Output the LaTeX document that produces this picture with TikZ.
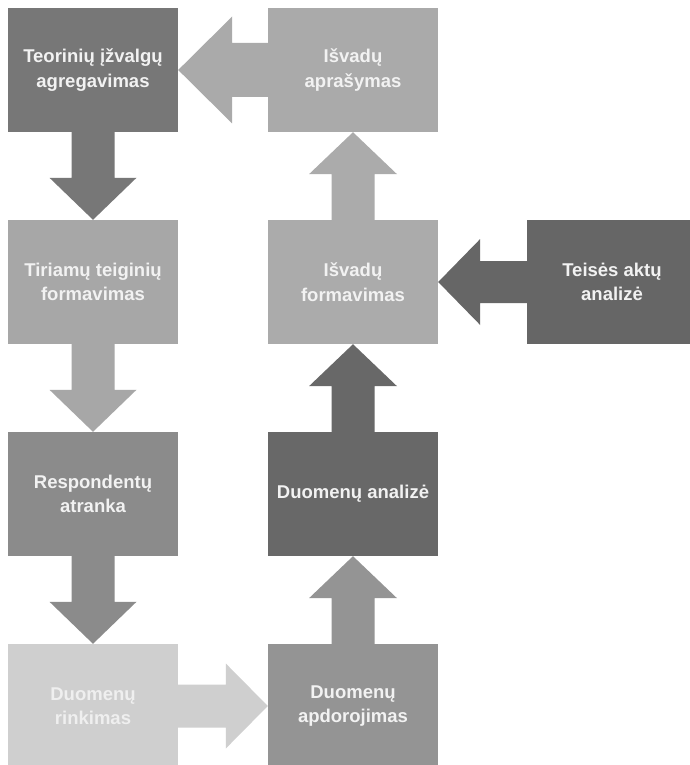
\documentclass[tikz,border=0pt]{standalone}
\usepackage{fontspec}
\setmainfont{Liberation Sans}
\usetikzlibrary{calc}

% box fills
\definecolor{cTeor}{HTML}{777777}
\definecolor{cApr}{HTML}{AAAAAA}
\definecolor{cTir}{HTML}{A7A7A7}
\definecolor{cForm}{HTML}{ABABAB}
\definecolor{cTeis}{HTML}{666666}
\definecolor{cResp}{HTML}{8B8B8B}
\definecolor{cAnal}{HTML}{686868}
\definecolor{cRink}{HTML}{CFCFCF}
\definecolor{cApd}{HTML}{949494}
\definecolor{cText}{HTML}{F2F2F2}
\definecolor{cTextLight}{HTML}{EFEFEF}

% block arrows: #1 source, #2 target, #3 colour, #4 half shaft, #5 half head, #6 head length
\newcommand\blockdown[6]{%
  \fill[#3] ($(#1.south)+(-#4,0)$) -- ($(#2.north)+(-#4,-#6)$) -- ($(#2.north)+(-#5,-#6)$)
    -- (#2.north) -- ($(#2.north)+(#5,-#6)$) -- ($(#2.north)+(#4,-#6)$)
    -- ($(#1.south)+(#4,0)$) -- cycle;}
\newcommand\blockup[6]{%
  \fill[#3] ($(#1.north)+(-#4,0)$) -- ($(#2.south)+(-#4,#6)$) -- ($(#2.south)+(-#5,#6)$)
    -- (#2.south) -- ($(#2.south)+(#5,#6)$) -- ($(#2.south)+(#4,#6)$)
    -- ($(#1.north)+(#4,0)$) -- cycle;}
\newcommand\blockleft[6]{%
  \fill[#3] ($(#1.west)+(0,-#4)$) -- ($(#2.east)+(#6,-#4)$) -- ($(#2.east)+(#6,-#5)$)
    -- (#2.east) -- ($(#2.east)+(#6,#5)$) -- ($(#2.east)+(#6,#4)$)
    -- ($(#1.west)+(0,#4)$) -- cycle;}
\newcommand\blockright[6]{%
  \fill[#3] ($(#1.east)+(0,-#4)$) -- ($(#2.west)+(-#6,-#4)$) -- ($(#2.west)+(-#6,-#5)$)
    -- (#2.west) -- ($(#2.west)+(-#6,#5)$) -- ($(#2.west)+(-#6,#4)$)
    -- ($(#1.east)+(0,#4)$) -- cycle;}

\tikzset{
  stage/.style={rectangle, inner sep=0pt, minimum width=170pt, minimum height=124pt,
    align=center, text=cText,
    font=\fontsize{18.5}{24.5}\selectfont\bfseries},
}

\begin{document}
\begin{tikzpicture}[x=1pt, y=-1pt]
  \useasboundingbox (0,0) rectangle (690,765);
  \clip (0,0) rectangle (690,765);
  \fill[white] (0,0) rectangle (690,765);

  % stages (positions of the box centres)
  \node[stage, fill=cTeor] (teor) at (93,70)  {Teorinių įžvalgų\\agregavimas};
  \node[stage, fill=cApr]  (apr)  at (353,70) {Išvadų\\aprašymas};
  \node[stage, fill=cTir]  (tir)  at (93,282) {Tiriamų teiginių\\formavimas};
  \node[stage, fill=cForm] (form) at (353,282) {Išvadų\\formavimas};
  \node[stage, fill=cTeis] (teis) at (612,282) {Teisės aktų\\analizė};
  \node[stage, fill=cResp] (resp) at (93,494) {Respondentų\\atranka};
  \node[stage, fill=cAnal] (anal) at (353,494) {Duomenų analizė};
  \node[stage, fill=cRink, text=cTextLight] (rink) at (93,706) {Duomenų\\rinkimas};
  \node[stage, fill=cApd]  (apd)  at (353,706) {Duomenų\\apdorojimas};

  % connecting block arrows
  \blockdown{teor}{tir}{cTeor}{21.5}{43.5}{42}
  \blockdown{tir}{resp}{cTir}{21.5}{43.5}{42}
  \blockdown{resp}{rink}{cResp}{21.5}{43.5}{42}
  \blockright{rink}{apd}{cRink}{21.5}{42.5}{42}
  \blockup{apd}{anal}{cApd}{21.5}{44}{42}
  \blockup{anal}{form}{cAnal}{21.5}{44}{42}
  \blockleft{teis}{form}{cTeis}{21}{43}{42}
  \blockup{form}{apr}{cForm}{21.5}{44}{42}
  \blockleft{apr}{teor}{cApr}{27}{53.5}{54}
\end{tikzpicture}
\end{document}
